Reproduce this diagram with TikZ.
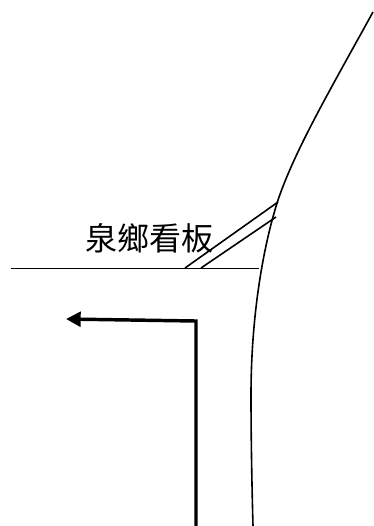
\documentclass[tikz,border=0pt]{standalone}
\usepackage{fontspec}
\newfontfamily\cjk{Noto Sans CJK TC}
\usetikzlibrary{arrows.meta}
\tikzset{thinline/.style={line width=1.2pt,black},thickline/.style={line width=2.6pt,black}}
\begin{document}
\begin{tikzpicture}[x=1pt,y=-1pt,xscale=0.75,yscale=0.75]
\useasboundingbox (0,0) rectangle (374,526);
\coordinate (a) at (373,12);
\coordinate (b) at (278,200);
\coordinate (c) at (251,395);
\coordinate (d) at (253,526);
\draw[thinline] (a) .. controls (330,90) and (295,150) .. (b) .. controls (262,250) and (251,320) .. (c) .. controls (251,440) and (252,490) .. (d);
\coordinate (l1) at (11,268.5);
\coordinate (l2) at (259,268.5);
\draw[thinline] (l1) -- (l2);
\coordinate (s1) at (185,268);
\coordinate (s2) at (278,202);
\coordinate (s3) at (201,268);
\coordinate (s4) at (276,217);
\draw[thinline] (s1) -- (s2);
\draw[thinline] (s3) -- (s4);
\node[inner sep=0pt,font=\cjk\fontsize{24}{24}\selectfont,anchor=center] (label) at (149.5,238) {泉鄉看板};
\coordinate (p1) at (196,526);
\coordinate (p2) at (196,321);
\coordinate (p3) at (66,319);
\draw[thickline,-{Triangle[length=11pt,width=11pt]}] (p1) -- (p2) -- (p3);
\end{tikzpicture}
\end{document}
